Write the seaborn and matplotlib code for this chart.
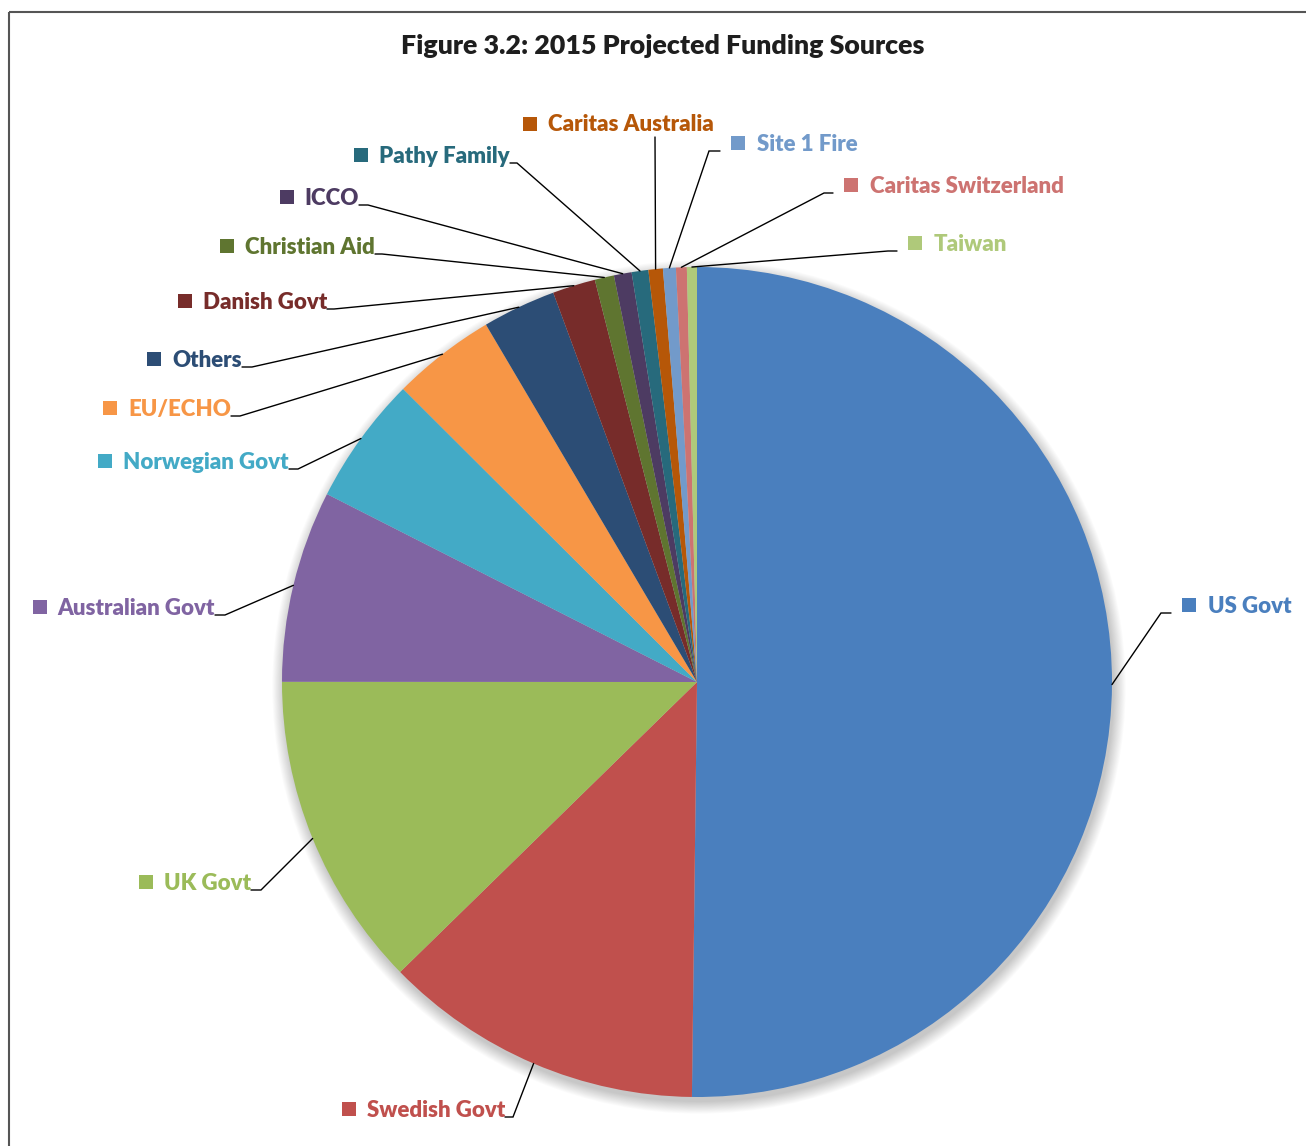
import matplotlib
matplotlib.use("Agg")
import matplotlib.pyplot as plt
import seaborn as sns
from matplotlib.patches import Circle, Rectangle
import numpy as np

# ---------------- data ----------------
sources = ["US Govt", "Swedish Govt", "UK Govt", "Australian Govt", "Norwegian Govt",
           "EU/ECHO", "Others", "Danish Govt", "Christian Aid", "ICCO", "Pathy Family",
           "Caritas Australia", "Site 1 Fire", "Caritas Switzerland", "Taiwan"]
shares = [50.19, 12.49, 12.32, 7.47, 5.00, 4.03, 2.86, 1.67, 0.75, 0.69, 0.65,
          0.56, 0.50, 0.42, 0.39]
title = "Figure 3.2: 2015 Projected Funding Sources"

# ---------------- style ----------------
colors = ["#4A7FBE", "#C0504D", "#9BBB59", "#8064A2", "#43AAC6", "#F79646",
          "#2C4D75", "#772C2A", "#5F7530", "#4D3B62", "#276A7C", "#B65708",
          "#729ACA", "#CD7371", "#AFC97A"]

# label layout in pixel coordinates: elbow x, line y (= text baseline), line end x, side
layout = {
    "US Govt":             (1161, 613, 1171, "right"),
    "Swedish Govt":        (513, 1117, 505, "left"),
    "UK Govt":             (261, 890, 251, "left"),
    "Australian Govt":     (225, 615, 215, "left"),
    "Norwegian Govt":      (298, 469, 289, "left"),
    "EU/ECHO":             (240, 416, 231, "left"),
    "Others":              (252, 367, 242, "left"),
    "Danish Govt":         (334, 309, 327, "left"),
    "Christian Aid":       (382, 254, 375, "left"),
    "ICCO":                (368, 205, 359, "left"),
    "Pathy Family":        (517, 163, 510, "left"),
    "Caritas Australia":   (655, 137, 655, "top"),
    "Site 1 Fire":         (709, 151, 720, "right"),
    "Caritas Switzerland": (824, 193, 833, "right"),
    "Taiwan":              (888, 251, 897, "right"),
}
top_label_pos = (548, 131)   # text left, baseline for the vertical-leader label

sns.set_theme(style="white")
plt.rcParams["font.family"] = ["Lato", "DejaVu Sans"]

W, H = 1306, 1146
fig = plt.figure(figsize=(W / 100, H / 100), dpi=100)
fig.patch.set_facecolor("white")
ax = fig.add_axes([0, 0, 1, 1])

cx, cy, R = 697, 682, 415

# soft shadow
for k in range(14):
    ax.add_patch(Circle((cx + 2, cy + 5), R + k * 0.9, color="black", alpha=0.017,
                        lw=0, zorder=0))

wedges, _ = ax.pie(shares, colors=colors, startangle=-90, counterclock=True,
                   center=(cx, cy), radius=R, wedgeprops=dict(linewidth=0))
for w in wedges:
    w.set_zorder(2)

ax.set_xlim(0, W)
ax.set_ylim(H, 0)
ax.set_aspect("equal")
ax.axis("off")

# frame
ax.plot([8.5, 8.5], [H, 11.5], color="#555555", lw=1.5, solid_capstyle="butt", zorder=5)
ax.plot([8.5, W], [11.5, 11.5], color="#555555", lw=1.5, solid_capstyle="butt", zorder=5)

ax.text(663, 54, title, ha="center", va="baseline", fontsize=19.3,
        fontweight="heavy", color="#1e1e1e")

fs = 16
left_texts = []
for w, name, col in zip(wedges, sources, colors):
    mid = np.deg2rad((w.theta1 + w.theta2) / 2)
    sx = cx + R * np.cos(mid)
    sy = cy + R * np.sin(mid)
    ex, ly, hx, side = layout[name]
    ax.plot([sx, ex, hx], [sy, ly, ly], color="black", lw=1.0, zorder=4,
            solid_joinstyle="miter")
    if side == "right":
        ax.add_patch(Rectangle((hx + 11, ly - 15), 14, 14, color=col, lw=0, zorder=4))
        ax.text(hx + 37, ly, name, ha="left", va="baseline", fontsize=fs,
                fontweight="heavy", color=col)
    elif side == "left":
        t = ax.text(hx, ly, name, ha="right", va="baseline", fontsize=fs,
                    fontweight="heavy", color=col)
        left_texts.append((t, ly, col))
    else:
        tx, tb = top_label_pos
        ax.add_patch(Rectangle((tx - 25, tb - 14), 14, 14, color=col, lw=0, zorder=4))
        ax.text(tx, tb, name, ha="left", va="baseline", fontsize=fs,
                fontweight="heavy", color=col)

fig.canvas.draw()
renderer = fig.canvas.get_renderer()
for t, ly, col in left_texts:
    bb = t.get_window_extent(renderer)
    ax.add_patch(Rectangle((bb.x0 - 25, ly - 15), 14, 14, color=col, lw=0, zorder=4))

fig.savefig("out.png", dpi=100, facecolor="white")
